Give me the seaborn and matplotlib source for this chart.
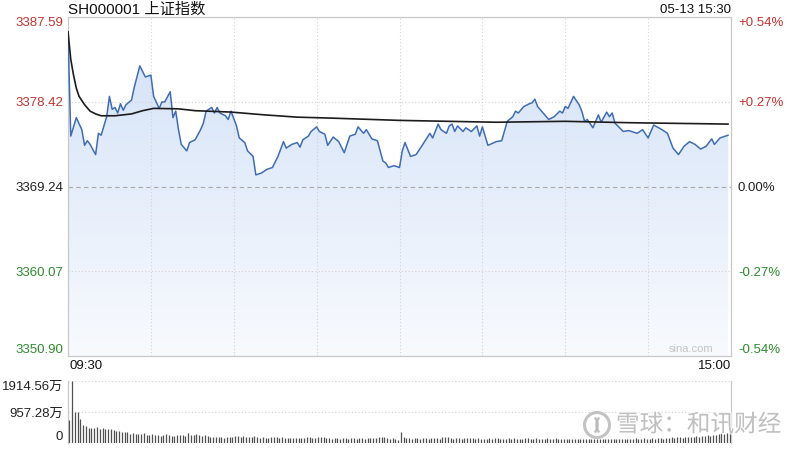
import numpy as np
import seaborn as sns
import matplotlib
matplotlib.use("Agg")
import matplotlib.pyplot as plt
import matplotlib.patheffects as pe
from matplotlib.colors import LinearSegmentedColormap
from matplotlib.patches import Circle, Arc

title = "SH000001 上证指数"
stamp = "05-13 15:30"
prev_close = 3369.24
y_levels = [3350.90, 3360.07, 3369.24, 3378.42, 3387.59]
y_labels = ["3350.90", "3360.07", "3369.24", "3378.42", "3387.59"]
pct_labels = ["-0.54%", "-0.27%", "0.00%", "+0.27%", "+0.54%"]
vol_levels = [0, 957.28, 1914.56]
vol_labels = ["0", "957.28万", "1914.56万"]
time_labels = ["09:30", "15:00"]
watermark = "雪球：和讯财经"

# minute offsets from 09:30 (lunch break removed) and index values at the line's vertices
price_minute = [0, 1, 3, 5, 6, 7, 8, 10, 11, 12, 14, 15, 16, 17, 18, 19, 20, 21, 23, 24,
                26, 28, 30, 31, 33, 34, 35, 37, 38, 39, 40, 41, 43, 44, 46, 48, 49, 50, 52, 53,
                54, 55, 57, 58, 59, 61, 62, 64, 65, 67, 68, 70, 72, 74, 76, 78, 79, 81, 83, 84,
                85, 87, 88, 90, 91, 93, 94, 96, 98, 100, 102, 104, 105, 107, 108, 110, 112, 114, 115, 116,
                118, 120, 121, 122, 124, 126, 128, 131, 132, 134, 135, 137, 138, 139, 140, 141, 143, 144, 146, 148,
                149, 150, 152, 155, 157, 159, 161, 162, 163, 165, 167, 168, 169, 170, 172, 174, 176, 178, 179, 180,
                181, 183, 185, 186, 187, 188, 190, 192, 193, 195, 196, 197, 198, 201, 203, 206, 208, 210, 212, 215,
                217, 219, 221, 223, 225, 227, 229, 231, 233, 234, 236, 239]
price_value = [3386.0, 3374.7, 3376.7, 3375.4, 3373.7, 3374.2, 3373.8, 3372.7, 3375.0, 3374.8,
               3376.8, 3379.0, 3377.6, 3377.8, 3377.2, 3378.2, 3377.5, 3378.1, 3378.6, 3380.0,
               3382.3, 3381.1, 3381.3, 3379.0, 3377.7, 3378.4, 3378.4, 3379.5, 3376.7, 3377.4,
               3375.4, 3373.8, 3373.1, 3374.0, 3374.3, 3375.4, 3376.1, 3377.4, 3377.8, 3377.2,
               3377.8, 3377.2, 3376.9, 3376.5, 3377.4, 3375.8, 3374.5, 3374.0, 3373.1, 3372.5,
               3370.5, 3370.7, 3371.1, 3371.3, 3372.5, 3374.1, 3373.4, 3373.8, 3374.0, 3373.5,
               3374.3, 3374.7, 3375.2, 3375.7, 3375.2, 3374.9, 3373.7, 3374.6, 3374.1, 3372.9,
               3374.7, 3374.9, 3375.7, 3375.0, 3375.4, 3374.4, 3374.2, 3372.0, 3371.8, 3371.3,
               3371.5, 3371.3, 3373.1, 3374.0, 3372.5, 3372.7, 3373.6, 3375.0, 3374.5, 3376.0,
               3375.4, 3375.0, 3375.8, 3376.0, 3375.2, 3375.8, 3375.2, 3375.6, 3375.2, 3375.8,
               3374.7, 3375.7, 3373.7, 3374.1, 3374.2, 3376.3, 3376.8, 3377.4, 3377.2, 3377.9,
               3378.2, 3378.3, 3378.7, 3377.9, 3377.2, 3376.5, 3376.8, 3377.4, 3377.2, 3377.9,
               3377.7, 3379.0, 3378.1, 3377.4, 3376.3, 3376.5, 3375.6, 3377.0, 3376.2, 3377.3,
               3376.8, 3377.2, 3376.1, 3375.2, 3375.3, 3375.0, 3375.4, 3374.5, 3375.9, 3375.4,
               3375.0, 3373.4, 3372.7, 3373.6, 3374.1, 3373.8, 3373.3, 3373.6, 3374.4, 3373.8,
               3374.5, 3374.8]

avg_minute = [0, 1, 2, 3, 4, 6, 8, 10, 12, 17, 23, 27, 31, 40, 46, 59, 71, 83, 95, 120,
              155, 180, 203, 239]
avg_value = [3386.0, 3383.0, 3381.3, 3379.9, 3379.0, 3378.1, 3377.4, 3377.1, 3376.9, 3376.9,
             3377.1, 3377.45, 3377.7, 3377.65, 3377.45, 3377.3, 3377.0, 3376.75, 3376.65, 3376.4,
             3376.2, 3376.3, 3376.15, 3376.0]

# per-minute volume, unit 万
volume = [710, 1900, 960, 960, 730, 560, 520, 470, 450, 450, 500, 420, 470, 430, 430, 440, 410, 360, 360, 340,
          350, 330, 280, 300, 290, 270, 280, 300, 250, 260, 270, 250, 260, 230, 240, 290, 260, 230, 220, 240,
          260, 240, 230, 320, 240, 260, 290, 250, 230, 260, 230, 180, 190, 170, 180, 170, 160, 180, 170, 200,
          220, 210, 190, 230, 200, 180, 180, 230, 170, 150, 180, 160, 150, 170, 170, 180, 150, 190, 160, 150,
          150, 140, 160, 150, 140, 150, 170, 190, 150, 140, 190, 180, 190, 150, 140, 130, 150, 140, 130, 150,
          140, 130, 150, 140, 130, 140, 150, 130, 140, 150, 140, 150, 180, 170, 190, 150, 130, 140, 120, 100,
          350, 180, 150, 140, 130, 150, 140, 130, 150, 140, 130, 140, 150, 140, 130, 180, 170, 190, 140, 130,
          140, 150, 130, 140, 150, 160, 140, 130, 140, 130, 120, 130, 140, 130, 150, 140, 130, 120, 130, 140,
          130, 140, 130, 120, 130, 150, 140, 120, 130, 140, 130, 120, 130, 140, 120, 130, 140, 130, 120, 110,
          120, 130, 110, 120, 130, 120, 110, 120, 130, 120, 110, 120, 130, 120, 110, 120, 130, 120, 110, 120,
          130, 120, 110, 120, 130, 140, 120, 130, 140, 120, 130, 140, 130, 150, 140, 130, 150, 160, 170, 150,
          180, 170, 160, 190, 180, 200, 190, 210, 200, 220, 210, 240, 230, 260, 250, 270, 300, 280, 320, 460]

RED, GREEN, BLACK = "#c23531", "#2e8b2e", "#222222"
level_colors = [GREEN, GREEN, BLACK, RED, RED]
BORDER = "#c8c8c8"
GRID = "#d2d2d2"

sns.set_theme(style="white")
plt.rcParams["font.family"] = ["Liberation Sans", "Noto Sans CJK SC", "DejaVu Sans"]

W, H = 800, 450
fig = plt.figure(figsize=(8, 4.5), dpi=100)
fig.patch.set_facecolor("white")

# ---- price panel
ax = fig.add_axes([68 / W, 1 - 356 / H, 663 / W, 339 / H])
ax.set_xlim(0, 240)
ax.set_ylim(y_levels[0], y_levels[-1])
ax.set_facecolor("white")

cmap = LinearSegmentedColormap.from_list("fill", ["#f8fafe", "#d2e1f7"])
grad = np.linspace(0, 1, 256).reshape(-1, 1)
im = ax.imshow(grad, cmap=cmap, origin="lower", aspect="auto",
               extent=[0, 240, y_levels[0], y_levels[-1]], zorder=1)
poly = ax.fill_between(price_minute, price_value, y_levels[0], color="none", lw=0)
im.set_clip_path(poly.get_paths()[0], transform=ax.transData)

for lv in (y_levels[1], y_levels[3]):
    ax.axhline(lv, color=GRID, lw=0.8, ls=(0, (1, 2)), zorder=2)
ax.axhline(prev_close, color="#a9a9a9", lw=0.8, ls=(0, (4, 3)), zorder=2)
for m in range(30, 240, 30):
    ax.axvline(m, color=GRID, lw=0.8, ls=(0, (1, 2)), zorder=2)

sns.lineplot(x=price_minute, y=price_value, ax=ax, color="#3f6db5", lw=1.1,
             estimator=None, sort=False, zorder=4)
sns.lineplot(x=avg_minute, y=avg_value, ax=ax, color="#1c1c1c", lw=1.2,
             estimator=None, sort=False, zorder=5)

for s in ax.spines.values():
    s.set_visible(True)
    s.set_color(BORDER)
    s.set_linewidth(0.9)
ax.set_xticks([])
ax.set_yticks(y_levels)
ax.set_yticklabels(y_labels)
ax.tick_params(axis="y", length=0, pad=3.5, labelsize=9.5)
for lab, c in zip(ax.get_yticklabels(), level_colors):
    lab.set_color(c)
ax.get_yticklabels()[0].set_va("bottom")
ax.get_yticklabels()[-1].set_va("top")
ax.set_xlabel("")
ax.set_ylabel("")

ax2 = ax.twinx()
ax2.set_ylim(y_levels[0], y_levels[-1])
ax2.set_yticks(y_levels)
ax2.set_yticklabels(pct_labels)
ax2.tick_params(axis="y", length=0, pad=5, labelsize=9.5)
for lab, c in zip(ax2.get_yticklabels(), level_colors):
    lab.set_color(c)
ax2.get_yticklabels()[0].set_va("bottom")
ax2.get_yticklabels()[-1].set_va("top")
for s in ax2.spines.values():
    s.set_visible(False)

# ---- volume panel
axv = fig.add_axes([68 / W, 1 - 443 / H, 663 / W, 62 / H])
axv.set_xlim(0, 240)
axv.set_ylim(0, vol_levels[-1])
for lv in vol_levels[1:]:
    axv.axhline(lv, color=GRID, lw=0.8, ls=(0, (1, 2)), zorder=1)
minutes = np.arange(len(volume)) + 0.5
axv.vlines(minutes, 0, volume, color="#505050", lw=0.9, zorder=3)
axv.set_xticks([])
axv.set_yticks(vol_levels)
axv.set_yticklabels(vol_labels)
axv.tick_params(axis="y", length=0, pad=3.5, labelsize=9.5, labelcolor=BLACK)
axv.get_yticklabels()[0].set_va("bottom")
axv.get_yticklabels()[-1].set_va("top")
for side, s in axv.spines.items():
    s.set_visible(side in ("left", "right"))
    s.set_color(BORDER)
    s.set_linewidth(0.9)

# ---- texts
fig.text(68 / W, 1 - 10 / H, title, ha="left", va="center", fontsize=11, color="#111111")
fig.text(731 / W, 1 - 10 / H, stamp, ha="right", va="center", fontsize=9.5, color="#111111")
fig.text(69 / W, 1 - 366 / H, time_labels[0], ha="left", va="center", fontsize=9.5, color="#111111")
fig.text(731 / W, 1 - 366 / H, time_labels[1], ha="right", va="center", fontsize=9.5, color="#111111")
fig.text(691 / W, 1 - 349 / H, "sina.com", ha="center", va="center", fontsize=8, color="#c4c4c4")

# ---- watermark overlay
axo = fig.add_axes([0, 0, 1, 1], zorder=10)
axo.set_xlim(0, W)
axo.set_ylim(H, 0)
axo.axis("off")
axo.patch.set_alpha(0)
wm = "#b4b4b4"
stroke = [pe.withStroke(linewidth=2, foreground="white")]
c = Circle((597, 425), 12.5, fill=False, ec=wm, lw=2.2, alpha=0.8)
c.set_path_effects(stroke)
axo.add_patch(c)
for cx, t1, t2 in ((592, -70, 70), (602, 110, 250)):
    a = Arc((cx, 425), 11, 17, theta1=t1, theta2=t2, ec=wm, lw=1.8, alpha=0.8)
    axo.add_patch(a)
axo.text(616, 425, watermark, ha="left", va="center", fontsize=17, color=wm, alpha=0.8,
         family=["Noto Sans CJK SC"], path_effects=stroke)

fig.savefig("out.png", dpi=100, facecolor="white")
